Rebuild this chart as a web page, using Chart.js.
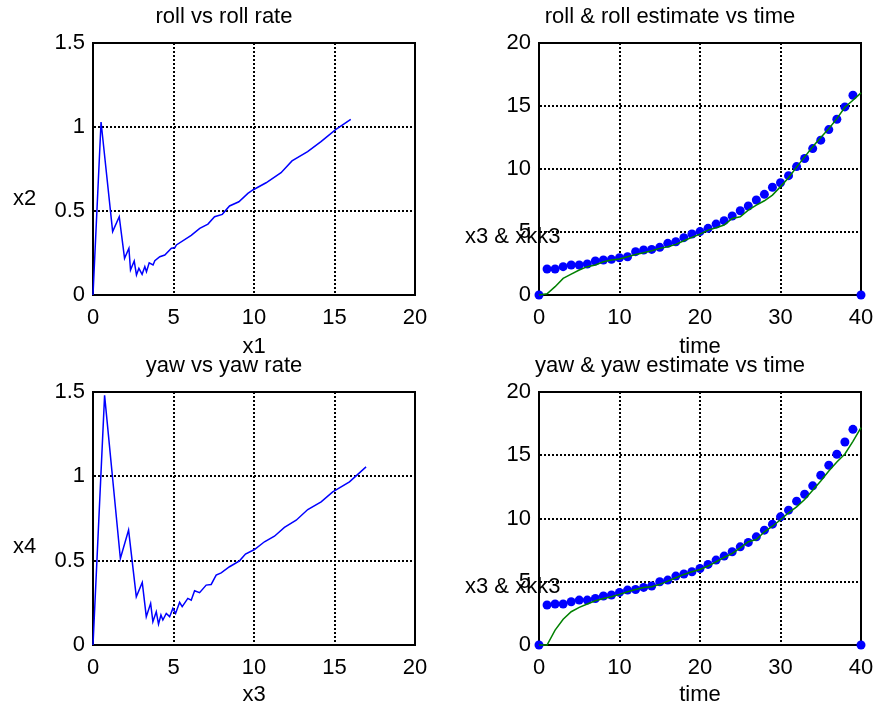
<!DOCTYPE html>
<html>
<head>
<meta charset="utf-8">
<title>roll / yaw estimates</title>
<script src="https://cdn.jsdelivr.net/npm/chart.js@4.4.1/dist/chart.umd.min.js"></script>
<style>
  html, body { margin: 0; padding: 0; background: #fff; }
  #wrap { position: relative; width: 878px; height: 711px; overflow: hidden; }
  #wrap canvas { position: absolute; left: 0; top: 0; }
</style>
</head>
<body>
<div id="wrap">
  <canvas id="c1" width="878" height="711"></canvas>
  <canvas id="c2" width="878" height="711"></canvas>
  <canvas id="c3" width="878" height="711"></canvas>
  <canvas id="c4" width="878" height="711"></canvas>
</div>
<script>
// ---- data ----
// roll (x1) against roll rate (x2)
const rollX1 = [0, 0.5, 1.22, 1.63, 1.96, 2.23, 2.33, 2.56, 2.70, 2.85, 3.05, 3.22, 3.32, 3.49, 3.73, 3.84,
  4.15, 4.46, 4.87, 5.08, 5.18, 6.1, 6.63, 7.14, 7.55, 8.03, 8.48, 9.06, 9.62, 9.93, 10.75, 11.68, 12.36,
  13.33, 14.16, 15.09, 16.01];
const rollRateX2 = [0, 1.03, 0.377, 0.466, 0.218, 0.278, 0.149, 0.202, 0.119, 0.159, 0.123, 0.169, 0.139, 0.192, 0.179, 0.204,
  0.228, 0.238, 0.278, 0.281, 0.298, 0.355, 0.397, 0.422, 0.466, 0.48, 0.53, 0.555, 0.605, 0.625, 0.668, 0.728, 0.798,
  0.853, 0.913, 0.986, 1.046];

// yaw (x3) against yaw rate (x4)
const yawX3 = [0, 0.72, 1.70, 2.21, 2.69, 3.06, 3.31, 3.58, 3.72, 3.93, 4.07, 4.22, 4.34, 4.55, 4.76, 4.96,
  5.13, 5.38, 5.54, 5.89, 6.10, 6.31, 6.62, 7.03, 7.34, 7.65, 7.96, 8.48, 9.10, 9.47, 10.03, 10.65, 11.27,
  11.89, 12.62, 13.34, 14.17, 14.89, 15.93, 16.96];
const yawRateX4 = [0, 1.48, 0.513, 0.681, 0.286, 0.371, 0.168, 0.247, 0.138, 0.197, 0.124, 0.178, 0.148, 0.187, 0.168, 0.217,
  0.187, 0.253, 0.227, 0.276, 0.266, 0.322, 0.31, 0.355, 0.359, 0.414, 0.428, 0.464, 0.499, 0.539, 0.566, 0.612, 0.645,
  0.697, 0.740, 0.803, 0.849, 0.908, 0.967, 1.056];

// sample times
const time = [0, 1, 2, 3, 4, 5, 6, 7, 8, 9, 10, 11, 12, 13, 14, 15, 16, 17, 18, 19, 20,
  21, 22, 23, 24, 25, 26, 27, 28, 29, 30, 31, 32, 33, 34, 35, 36, 37, 38, 39, 40];

// roll: true state and filter estimate
const rollTrue = [0, 0.1, 0.66, 1.32, 1.66, 1.98, 2.25, 2.38, 2.64, 2.77, 2.85, 3.04, 3.22, 3.36, 3.51, 3.70,
  3.83, 4.02, 4.31, 4.57, 4.83, 5.15, 5.34, 5.55, 6.08, 6.21, 6.74, 7.13, 7.48, 7.93, 8.6, 9.3, 10.15,
  10.96, 11.76, 12.5, 13.2, 14.0, 14.9, 15.46, 16.04];
const rollEst = [0, 2.06, 2.06, 2.25, 2.38, 2.38, 2.46, 2.70, 2.78, 2.83, 2.96, 3.04, 3.44, 3.57, 3.62, 3.78,
  4.10, 4.23, 4.55, 4.84, 5.03, 5.29, 5.63, 5.90, 6.27, 6.69, 7.06, 7.54, 7.99, 8.55, 8.91, 9.47, 10.19,
  10.83, 11.62, 12.29, 13.13, 13.95, 14.93, 15.85, 0];

// yaw: true state and filter estimate
const yawTrue = [0, 0, 1.18, 2.03, 2.63, 2.97, 3.24, 3.5, 3.68, 3.82, 4.0, 4.21, 4.39, 4.55, 4.61, 4.79,
  5.05, 5.32, 5.58, 5.79, 5.97, 6.24, 6.58, 6.92, 7.24, 7.68, 8.16, 8.34, 8.95, 9.39, 9.9, 10.45, 10.92,
  11.5, 12.24, 12.97, 13.76, 14.47, 15.1, 16.1, 17.18];
const yawEst = [0, 3.16, 3.24, 3.24, 3.42, 3.55, 3.55, 3.68, 3.87, 3.95, 4.16, 4.34, 4.39, 4.55, 4.66, 5.0,
  5.13, 5.45, 5.61, 5.79, 6.05, 6.37, 6.71, 7.03, 7.37, 7.76, 8.11, 8.55, 9.08, 9.55, 10.13, 10.66, 11.37,
  11.92, 12.58, 13.42, 14.21, 15.08, 16.05, 17.05, 0];

// tick values
const rateTicksX = [0, 5, 10, 15, 20];
const rateTicksY = [0, 0.5, 1, 1.5];
const timeTicks = [0, 10, 20, 30, 40];
const angleTicks = [0, 5, 10, 15, 20];

// ---- drawing ----
const FAMILY = '"Liberation Sans", Arial, Helvetica, sans-serif';
const FS = 22;
const LH = FS * 1.2;
const W = 878, H = 711;
const Y_W = 60, X_H = 66;

const pairs = (xs, ys) => xs.map((x, i) => ({ x: x, y: ys[i] }));

const framePlugin = {
  id: 'frame',
  beforeDatasetsDraw(chart) {
    const { ctx, chartArea: a } = chart;
    ctx.save();
    ctx.strokeStyle = '#000';
    ctx.lineWidth = 2;
    ctx.strokeRect(a.left, a.top, a.right - a.left, a.bottom - a.top);
    ctx.restore();
  },
  afterDraw(chart, args, opts) {
    if (!opts.text) return;
    const ctx = chart.ctx;
    ctx.save();
    ctx.font = FS + 'px ' + FAMILY;
    ctx.fillStyle = '#000';
    ctx.textAlign = 'left';
    ctx.textBaseline = 'middle';
    ctx.fillText(opts.text, opts.x, opts.y);
    ctx.restore();
  }
};

const tickFont = { family: FAMILY, size: FS };
const plainLabel = v => String(v);

function axis(min, max, values, extra) {
  const cfg = {
    type: 'linear',
    min: min,
    max: max,
    afterBuildTicks(s) { s.ticks = values.map(v => ({ value: v })); },
    grid: { color: '#000', lineWidth: 2, drawTicks: false },
    border: { display: true, color: '#000', width: 2, dash: [2, 2] }
  };
  return Object.assign(cfg, extra);
}

function makePanel(id, p) {
  const a = p.area;
  return new Chart(document.getElementById(id), {
    type: 'line',
    data: { datasets: p.datasets },
    plugins: [framePlugin],
    options: {
      responsive: false,
      animation: false,
      events: [],
      layout: {
        padding: {
          left: a.l - Y_W,
          right: W - a.r,
          top: p.titleY - LH / 2,
          bottom: H - a.b - X_H
        }
      },
      plugins: {
        legend: { display: false },
        tooltip: { enabled: false },
        title: {
          display: true,
          text: p.title,
          color: '#000',
          font: { family: FAMILY, size: FS, weight: 'normal', lineHeight: 1.2 },
          padding: { top: 0, bottom: a.t - p.titleY - LH / 2 }
        },
        frame: p.yLabel
      },
      scales: {
        x: axis(p.xMin, p.xMax, p.xTicks, {
          afterFit(s) { s.height = X_H; s.paddingLeft = 0; s.paddingRight = 0; },
          ticks: { color: '#000', font: tickFont, padding: 10, maxRotation: 0, autoSkip: false, callback: plainLabel },
          title: {
            display: true,
            text: p.xTitle,
            color: '#000',
            font: { family: FAMILY, size: FS, lineHeight: 1.2 },
            padding: { top: 0, bottom: a.b + X_H - LH / 2 - p.xTitleY }
          }
        }),
        y: axis(p.yMin, p.yMax, p.yTicks, {
          afterFit(s) { s.width = Y_W; s.paddingTop = 0; s.paddingBottom = 0; },
          ticks: { color: '#000', font: tickFont, padding: 8, autoSkip: false, callback: plainLabel }
        })
      }
    }
  });
}

function trace(points, color) {
  return {
    data: points, borderColor: color, backgroundColor: color,
    borderWidth: 1.5, pointRadius: 0, tension: 0, fill: false, clip: false
  };
}
function dots(points, color) {
  return {
    data: points, borderColor: color, backgroundColor: color,
    showLine: false, pointRadius: 4.5, pointBorderWidth: 0, clip: false
  };
}

makePanel('c1', {
  area: { l: 93, t: 43, r: 415, b: 295 },
  title: 'roll vs roll rate', titleY: 17,
  xTitle: 'x1', xTitleY: 347,
  yLabel: { text: 'x2', x: 13, y: 199 },
  xMin: 0, xMax: 20, xTicks: rateTicksX,
  yMin: 0, yMax: 1.5, yTicks: rateTicksY,
  datasets: [trace(pairs(rollX1, rollRateX2), '#0000ff')]
});

makePanel('c2', {
  area: { l: 539, t: 43, r: 861, b: 295 },
  title: 'roll & roll estimate vs time', titleY: 17,
  xTitle: 'time', xTitleY: 347,
  yLabel: { text: 'x3 & xkk3', x: 465, y: 237 },
  xMin: 0, xMax: 40, xTicks: timeTicks,
  yMin: 0, yMax: 20, yTicks: angleTicks,
  datasets: [trace(pairs(time, rollTrue), '#008000'), dots(pairs(time, rollEst), '#0000ff')]
});

makePanel('c3', {
  area: { l: 93, t: 392, r: 415, b: 645 },
  title: 'yaw vs yaw rate', titleY: 366,
  xTitle: 'x3', xTitleY: 695,
  yLabel: { text: 'x4', x: 13, y: 547 },
  xMin: 0, xMax: 20, xTicks: rateTicksX,
  yMin: 0, yMax: 1.5, yTicks: rateTicksY,
  datasets: [trace(pairs(yawX3, yawRateX4), '#0000ff')]
});

makePanel('c4', {
  area: { l: 539, t: 392, r: 861, b: 645 },
  title: 'yaw & yaw estimate vs time', titleY: 366,
  xTitle: 'time', xTitleY: 695,
  yLabel: { text: 'x3 & xkk3', x: 465, y: 587 },
  xMin: 0, xMax: 40, xTicks: timeTicks,
  yMin: 0, yMax: 20, yTicks: angleTicks,
  datasets: [trace(pairs(time, yawTrue), '#008000'), dots(pairs(time, yawEst), '#0000ff')]
});
</script>
</body>
</html>
